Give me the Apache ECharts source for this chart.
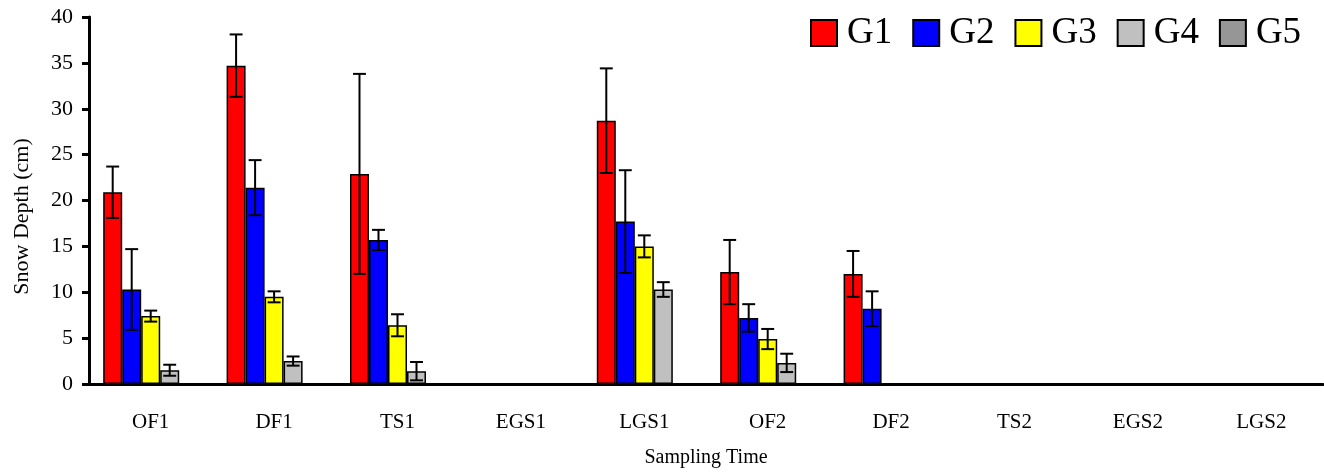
<!DOCTYPE html>
<html>
<head>
<meta charset="utf-8">
<script src="https://cdn.jsdelivr.net/npm/echarts@6/dist/echarts.min.js"></script>
<style>
  html, body { margin: 0; padding: 0; background: #fff; }
  #chart { width: 1324px; height: 473px; }
</style>
</head>
<body>
<div id="chart"></div>
<script>
var categories = ['OF1', 'DF1', 'TS1', 'EGS1', 'LGS1', 'OF2', 'DF2', 'TS2', 'EGS2', 'LGS2'];
var groupNames = ['G1', 'G2', 'G3', 'G4', 'G5'];

// mean snow depth (cm)
var g1 = [20.9, 34.7, 22.9, null, 28.7, 12.2, 12.0, null, null, null];
var g2 = [10.3, 21.4, 15.7, null, 17.7, 7.2, 8.2, null, null, null];
var g3 = [7.4, 9.5, 6.4, null, 15.0, 4.9, null, null, null, null];
var g4 = [1.5, 2.5, 1.4, null, 10.3, 2.3, null, null, null, null];
var g5 = [null, null, null, null, null, null, null, null, null, null];

// standard deviation
var g1Err = [2.8, 3.4, 10.9, null, 5.7, 3.5, 2.5, null, null, null];
var g2Err = [4.4, 3.0, 1.1, null, 5.6, 1.5, 1.9, null, null, null];
var g3Err = [0.6, 0.6, 1.2, null, 1.2, 1.1, null, null, null, null];
var g4Err = [0.6, 0.5, 1.0, null, 0.8, 1.0, null, null, null, null];
var g5Err = [null, null, null, null, null, null, null, null, null, null];

var colors = ['#ff0000', '#0000ff', '#ffff00', '#c0c0c0', '#969696'];
var means = [g1, g2, g3, g4, g5];
var errs = [g1Err, g2Err, g3Err, g4Err, g5Err];

var BAR_PCT = 0.154;
var font = 'Liberation Serif';

var myChart = echarts.init(document.getElementById('chart'));

// error bars drawn over the matching bar of each group
function errorRender(idx) {
    return function (params, api) {
        var cat = api.value(0);
        var v = api.value(1);
        var e = api.value(2);
        var band = api.size([1, 0])[0];
        var bw = band * BAR_PCT;
        var x = api.coord([cat, v])[0] + (idx - 2) * bw;
        var yTop = api.coord([cat, v + e])[1];
        var yBot = api.coord([cat, v - e])[1];
        var half = bw * 0.34;
        var st = { stroke: '#000', lineWidth: 2 };
        return {
            type: 'group',
            children: [
                { type: 'line', shape: { x1: x, y1: yTop, x2: x, y2: yBot }, style: st },
                { type: 'line', shape: { x1: x - half, y1: yTop, x2: x + half, y2: yTop }, style: st },
                { type: 'line', shape: { x1: x - half, y1: yBot, x2: x + half, y2: yBot }, style: st }
            ]
        };
    };
}

var series = [];
for (var i = 0; i < 5; i++) {
    series.push({
        name: groupNames[i],
        type: 'bar',
        data: means[i],
        barWidth: (BAR_PCT * 100) + '%',
        barGap: '0%',
        itemStyle: { color: colors[i], borderColor: '#000', borderWidth: 1.5 }
    });
}
for (var j = 0; j < 5; j++) {
    var d = [];
    for (var k = 0; k < categories.length; k++) {
        if (means[j][k] != null && errs[j][k] != null) d.push([k, means[j][k], errs[j][k]]);
    }
    series.push({
        type: 'custom',
        name: groupNames[j] + ' err',
        renderItem: errorRender(j),
        encode: { x: 0, y: 1 },
        data: d,
        z: 10,
        silent: true
    });
}

var option = {
    animation: false,
    textStyle: { fontFamily: font },
    legend: {
        data: groupNames,
        icon: 'rect',
        left: 805,
        top: 9,
        itemWidth: 26,
        itemHeight: 26,
        itemGap: 20,
        textStyle: { fontFamily: font, fontSize: 37, lineHeight: 38, color: '#000', padding: [0, 0, 0, 5] }
    },
    grid: { left: 89, right: 1, top: 17, bottom: 89, containLabel: false },
    xAxis: {
        type: 'category',
        data: categories,
        name: 'Sampling Time',
        nameLocation: 'middle',
        nameGap: 64,
        nameTextStyle: { fontFamily: font, fontSize: 20, color: '#000' },
        axisLine: { lineStyle: { color: '#000', width: 3 } },
        axisTick: { inside: true, length: 7, lineStyle: { color: '#000', width: 3 } },
        axisLabel: { margin: 28, fontFamily: font, fontSize: 21, color: '#000' }
    },
    yAxis: {
        type: 'value',
        min: 0,
        max: 40,
        interval: 5,
        name: 'Snow Depth (cm)',
        nameLocation: 'middle',
        nameGap: 56,
        nameTextStyle: { fontFamily: font, fontSize: 22, color: '#000', padding: [0, 32, 0, 0] },
        splitLine: { show: false },
        axisLine: { show: true, lineStyle: { color: '#000', width: 3 } },
        axisTick: { show: true, length: 7, lineStyle: { color: '#000', width: 3 } },
        axisLabel: { margin: 16, fontFamily: font, fontSize: 22, color: '#000' }
    },
    series: series
};

myChart.setOption(option);
</script>
</body>
</html>
